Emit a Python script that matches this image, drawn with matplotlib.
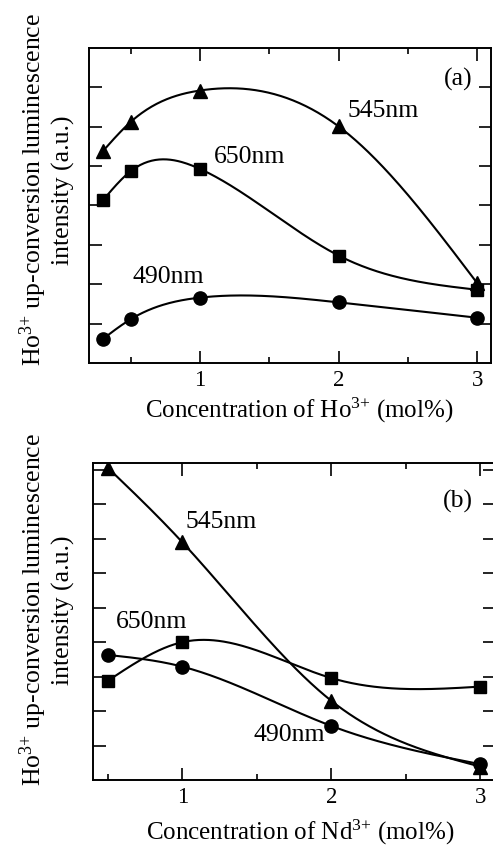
import numpy as np
import matplotlib.pyplot as plt

plt.rcParams['font.family'] = ['Liberation Serif', 'DejaVu Serif']
plt.rcParams['mathtext.fontset'] = 'custom'
plt.rcParams['mathtext.rm'] = 'Liberation Serif'
plt.rcParams['mathtext.it'] = 'Liberation Serif:italic'
plt.rcParams['mathtext.bf'] = 'Liberation Serif:bold'

# (a) Ho3+ concentration series
ho_conc = [0.3, 0.5, 1, 2, 3]
ho_545 = [5.38, 6.12, 6.92, 6.01, 2.03]
ho_650 = [4.13, 4.87, 4.93, 2.73, 1.86]
ho_490 = [0.61, 1.11, 1.66, 1.54, 1.15]

# (b) Nd3+ concentration series
nd_conc = [0.5, 1, 2, 3]
nd_545 = [9.06, 6.90, 2.30, 0.39]
nd_650 = [2.88, 4.00, 2.96, 2.71]
nd_490 = [3.63, 3.29, 1.57, 0.46]

wavelengths = ['545nm', '650nm', '490nm']
markers = ['^', 's', 'o']
msizes = [10, 8.5, 9.5]


def natural_spline(x, y, num=300):
    x = np.asarray(x, float)
    y = np.asarray(y, float)
    n = len(x)
    h = np.diff(x)
    A = np.zeros((n, n))
    rhs = np.zeros(n)
    A[0, 0] = A[-1, -1] = 1
    for i in range(1, n - 1):
        A[i, i - 1] = h[i - 1]
        A[i, i] = 2 * (h[i - 1] + h[i])
        A[i, i + 1] = h[i]
        rhs[i] = 3 * ((y[i + 1] - y[i]) / h[i] - (y[i] - y[i - 1]) / h[i - 1])
    c = np.linalg.solve(A, rhs)
    xs = np.linspace(x[0], x[-1], num)
    idx = np.clip(np.searchsorted(x, xs) - 1, 0, n - 2)
    t = xs - x[idx]
    b = (y[idx + 1] - y[idx]) / h[idx] - h[idx] * (2 * c[idx] + c[idx + 1]) / 3
    d = (c[idx + 1] - c[idx]) / (3 * h[idx])
    ys = y[idx] + b * t + c[idx] * t ** 2 + d * t ** 3
    return xs, ys


def style_axes(ax, xlim, ylim, yticks):
    ax.set_xlim(*xlim)
    ax.set_ylim(*ylim)
    ax.set_xticks([1, 2, 3])
    ax.set_xticks([0.5, 1.5, 2.5], minor=True)
    ax.set_yticks(yticks)
    ax.set_yticklabels([])
    ax.tick_params(which='both', direction='in', top=True, right=True,
                   width=1.2, labelsize=16.5, pad=5)
    ax.tick_params(which='major', length=9)
    ax.tick_params(which='minor', length=4.5)
    for s in ax.spines.values():
        s.set_linewidth(1.4)


def draw_series(ax, x, series):
    for ys, m, ms in zip(series, markers, msizes):
        xs, yy = natural_spline(x, ys)
        ax.plot(xs, yy, color='black', lw=1.5)
        ax.plot(x, ys, ls='none', marker=m, ms=ms, color='black')


fig = plt.figure(figsize=(4.93, 8.49), dpi=100)
W, H = 493, 849

ax1 = fig.add_axes([89 / W, 1 - 363 / H, (491 - 89) / W, (363 - 48) / H])
draw_series(ax1, ho_conc, [ho_545, ho_650, ho_490])
style_axes(ax1, (0.2, 3.1), (0, 8), range(1, 8))
ax1.text(2.32, 6.39, wavelengths[0], fontsize=18.5, ha='center', va='center')
ax1.text(1.36, 5.24, wavelengths[1], fontsize=18.5, ha='center', va='center')
ax1.text(0.77, 2.19, wavelengths[2], fontsize=18.5, ha='center', va='center')
ax1.text(2.86, 7.2, '(a)', fontsize=18.5, ha='center', va='center')

ax2 = fig.add_axes([93 / W, 1 - 780 / H, (495 - 93) / W, (780 - 463) / H])
draw_series(ax2, nd_conc, [nd_545, nd_650, nd_490])
style_axes(ax2, (0.4, 3.1), (0, 9.2), range(1, 10))
ax2.text(1.26, 7.5, wavelengths[0], fontsize=18.5, ha='center', va='center')
ax2.text(0.79, 4.59, wavelengths[1], fontsize=18.5, ha='center', va='center')
ax2.text(1.72, 1.31, wavelengths[2], fontsize=18.5, ha='center', va='center')
ax2.text(2.85, 8.08, '(b)', fontsize=18.5, ha='center', va='center')

ylabel = 'Ho$^{3{+}}$ up-conversion luminescence\nintensity (a.u.)'
fig.text(46 / W, 1 - 190 / H, ylabel, rotation=90, fontsize=18.5,
         ha='center', va='center', multialignment='center', linespacing=1.15)
fig.text(46 / W, 1 - 610 / H, ylabel, rotation=90, fontsize=18.5,
         ha='center', va='center', multialignment='center', linespacing=1.15)
fig.text(299 / W, 1 - 418 / H, 'Concentration of Ho$^{3{+}}$ (mol%)',
         fontsize=18, ha='center', va='baseline')
fig.text(300 / W, 1 - 840 / H, 'Concentration of Nd$^{3{+}}$ (mol%)',
         fontsize=18, ha='center', va='baseline')

fig.savefig('out.png', dpi=100)
